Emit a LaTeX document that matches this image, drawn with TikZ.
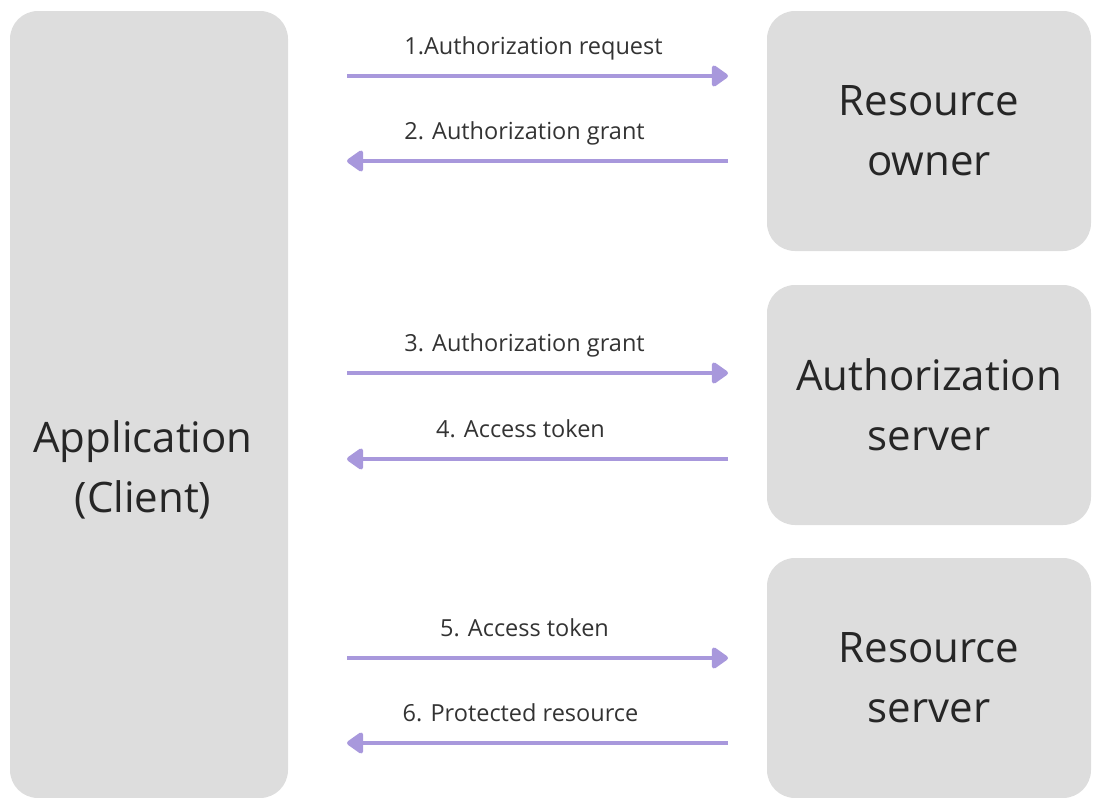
\documentclass[tikz,border=0pt]{standalone}
\usepackage{fontspec}
\setmainfont{Open Sans}
\usetikzlibrary{arrows.meta}

\definecolor{boxgray}{HTML}{DDDDDD}
\definecolor{flowpurple}{HTML}{A898DC}
\definecolor{textgray}{HTML}{333333}

\tikzset{
  box/.style={fill=boxgray, rounded corners=28pt, inner sep=0pt, align=center,
    text=black!85, font=\fontsize{42}{60}\selectfont},
  flow/.style={draw=flowpurple, line width=4.5pt,
    -{Triangle[length=18pt, width=24pt, round]}},
  lbl/.style={above=14pt, inner sep=0pt, text height=17pt, text depth=5pt,
    text=textgray, font=\fontsize{23.5}{28}\selectfont}
}

\begin{document}
\begin{tikzpicture}[x=1pt, y=-1pt]
  \useasboundingbox (0,0) rectangle (1093,798);

  % the client on the left
  \node[box, minimum width=278pt, minimum height=787pt] (app) at (149,404.5) {};
  \node[align=center, text=black!85, font=\fontsize{42}{60}\selectfont] (apptext) at (143,470) {Application\\(Client)};

  % the three servers on the right
  \node[box, minimum width=324pt, minimum height=240pt] (owner) at (929,131) {Resource\\owner};
  \node[box, minimum width=324pt, minimum height=240pt] (auth) at (929,405) {Authorization\\server};
  \node[box, minimum width=324pt, minimum height=240pt] (res) at (929,678) {Resource\\server};

  % arrow ends
  \coordinate (a1) at (347,76);  \coordinate (b1) at (728,76);
  \coordinate (a2) at (347,161); \coordinate (b2) at (728,161);
  \coordinate (a3) at (347,373); \coordinate (b3) at (728,373);
  \coordinate (a4) at (347,459); \coordinate (b4) at (728,459);
  \coordinate (a5) at (347,658); \coordinate (b5) at (728,658);
  \coordinate (a6) at (347,743); \coordinate (b6) at (728,743);

  \draw[flow] (a1) -- (b1) node[midway, lbl, xshift=-4pt] (l1) {1.Authorization request};
  \draw[flow] (b2) -- (a2) node[midway, lbl, xshift=-13pt] (l2) {2. Authorization grant};
  \draw[flow] (a3) -- (b3) node[midway, lbl, xshift=-13pt] (l3) {3. Authorization grant};
  \draw[flow] (b4) -- (a4) node[midway, lbl, xshift=-17pt] (l4) {4. Access token};
  \draw[flow] (a5) -- (b5) node[midway, lbl, xshift=-13pt] (l5) {5. Access token};
  \draw[flow] (b6) -- (a6) node[midway, lbl, xshift=-17pt] (l6) {6. Protected resource};
\end{tikzpicture}
\end{document}
